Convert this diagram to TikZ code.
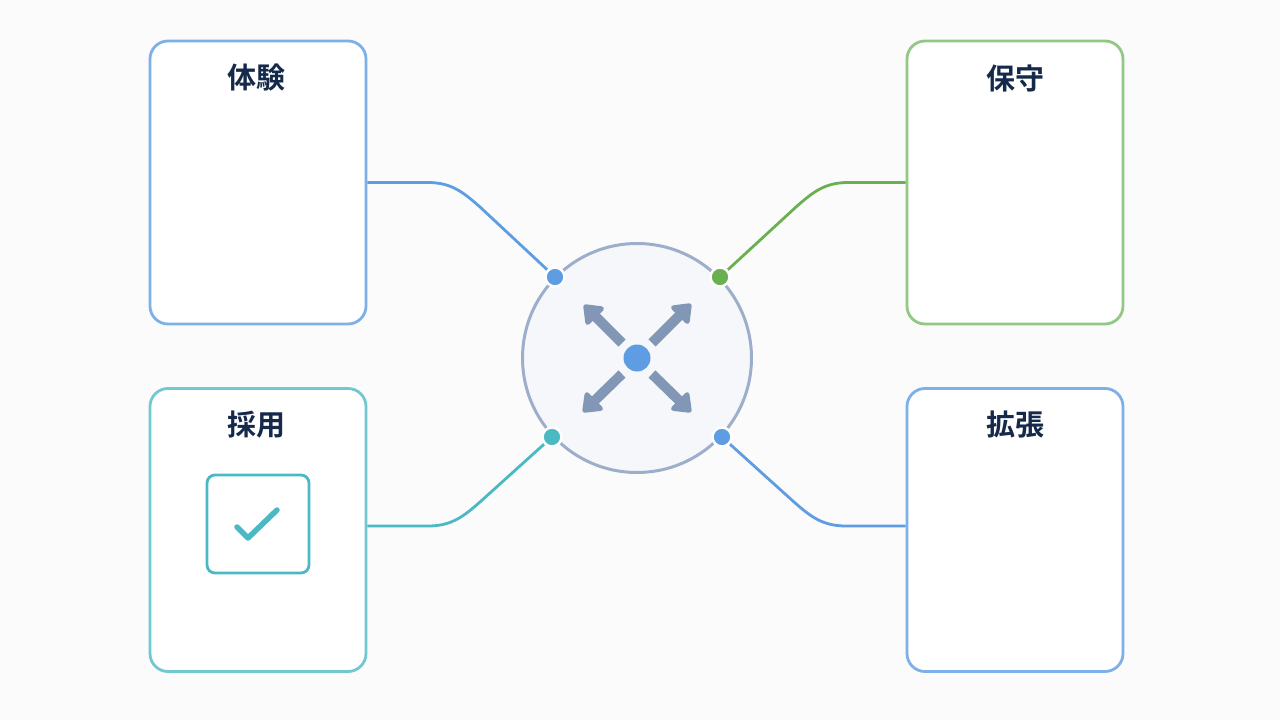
\documentclass[tikz,border=0pt]{standalone}
\usepackage{fontspec}
\newfontfamily\cjk{Noto Sans CJK JP}[BoldFont={Noto Sans CJK JP Bold}]
\usetikzlibrary{arrows.meta}
\definecolor{bg}{HTML}{FBFBFC}
\definecolor{blueb}{HTML}{7EB0E8}
\definecolor{bluel}{HTML}{5E9DE2}
\definecolor{greenb}{HTML}{92C884}
\definecolor{greenl}{HTML}{6BB050}
\definecolor{tealb}{HTML}{72C8D0}
\definecolor{teall}{HTML}{4BB9C4}
\definecolor{ring}{HTML}{9DAECB}
\definecolor{ringfill}{HTML}{F6F7FA}
\definecolor{arr}{HTML}{8296B6}
\definecolor{titlec}{HTML}{152A4A}
\tikzset{
  card/.style={draw=#1, line width=2.8pt, rounded corners=18pt, minimum width=216pt, minimum height=283pt, fill=white},
  ttl/.style={font=\cjk\bfseries\fontsize{29}{33}\selectfont, text=titlec},
  dot/.style={circle, fill=#1, draw=white, line width=2.5pt, minimum size=19pt, inner sep=0pt},
  conn/.style={draw=#1, line width=2.8pt},
  burst/.style={draw=arr, line width=10pt, -{Triangle[width=28pt,length=19pt,round]}},
}
\begin{document}
\begin{tikzpicture}[x=1pt,y=-1pt]
\fill[bg] (0,0) rectangle (1280,720);
\useasboundingbox (0,0) rectangle (1280,720);
% cards
\node[card=blueb] (exp) at (258,182.5) {};
\node[card=greenb] (mnt) at (1015,182.5) {};
\node[card=tealb] (adp) at (258,530) {};
\node[card=blueb] (ext) at (1015,530) {};
\node[ttl] (texp) at (256,78) {体験};
\node[ttl] (tmnt) at (1015,78) {保守};
\node[ttl] (tadp) at (256,425) {採用};
\node[ttl] (text) at (1015,425) {拡張};
% checkbox
\node[draw=teall, line width=2.8pt, rounded corners=8pt, minimum width=102pt, minimum height=98pt, fill=white] (chk) at (258,524) {};
\coordinate (c1) at (237,527);
\coordinate (c2) at (248,538);
\coordinate (c3) at (277,510);
\draw[teall, line width=5.5pt, line cap=round, line join=round] (c1) -- (c2) -- (c3);
% hub
\node[circle, draw=ring, fill=ringfill, line width=3pt, minimum size=229pt, inner sep=0pt] (hub) at (637,358) {};
\coordinate (s1) at (622,343); \coordinate (e1) at (584,305);
\coordinate (s2) at (652,343); \coordinate (e2) at (691,304);
\coordinate (s3) at (622,374); \coordinate (e3) at (583,412);
\coordinate (s4) at (652,374); \coordinate (e4) at (691,412);
\draw[burst] (s1) -- (e1);
\draw[burst] (s2) -- (e2);
\draw[burst] (s3) -- (e3);
\draw[burst] (s4) -- (e4);
\node[circle, fill=bluel, minimum size=27pt, inner sep=0pt] (core) at (637,358) {};
% connectors
\draw[conn=bluel] (exp.east) -- (428,182.5) .. controls (452,182.5) and (464,193) .. (480,207) -- (555,277);
\draw[conn=greenl] (mnt.west) -- (848,182.5) .. controls (824,182.5) and (812,193) .. (796,207) -- (720,277);
\draw[conn=teall] ([yshift=4pt]adp.east) -- (428,526) .. controls (452,526) and (464,516) .. (480,502) -- (552,437);
\draw[conn=bluel] ([yshift=4pt]ext.west) -- (846,526) .. controls (822,526) and (810,516) .. (794,502) -- (722,437);
\node[dot=bluel] (d1) at (555,277) {};
\node[dot=greenl] (d2) at (720,277) {};
\node[dot=teall] (d3) at (552,437) {};
\node[dot=bluel] (d4) at (722,437) {};
\end{tikzpicture}
\end{document}
